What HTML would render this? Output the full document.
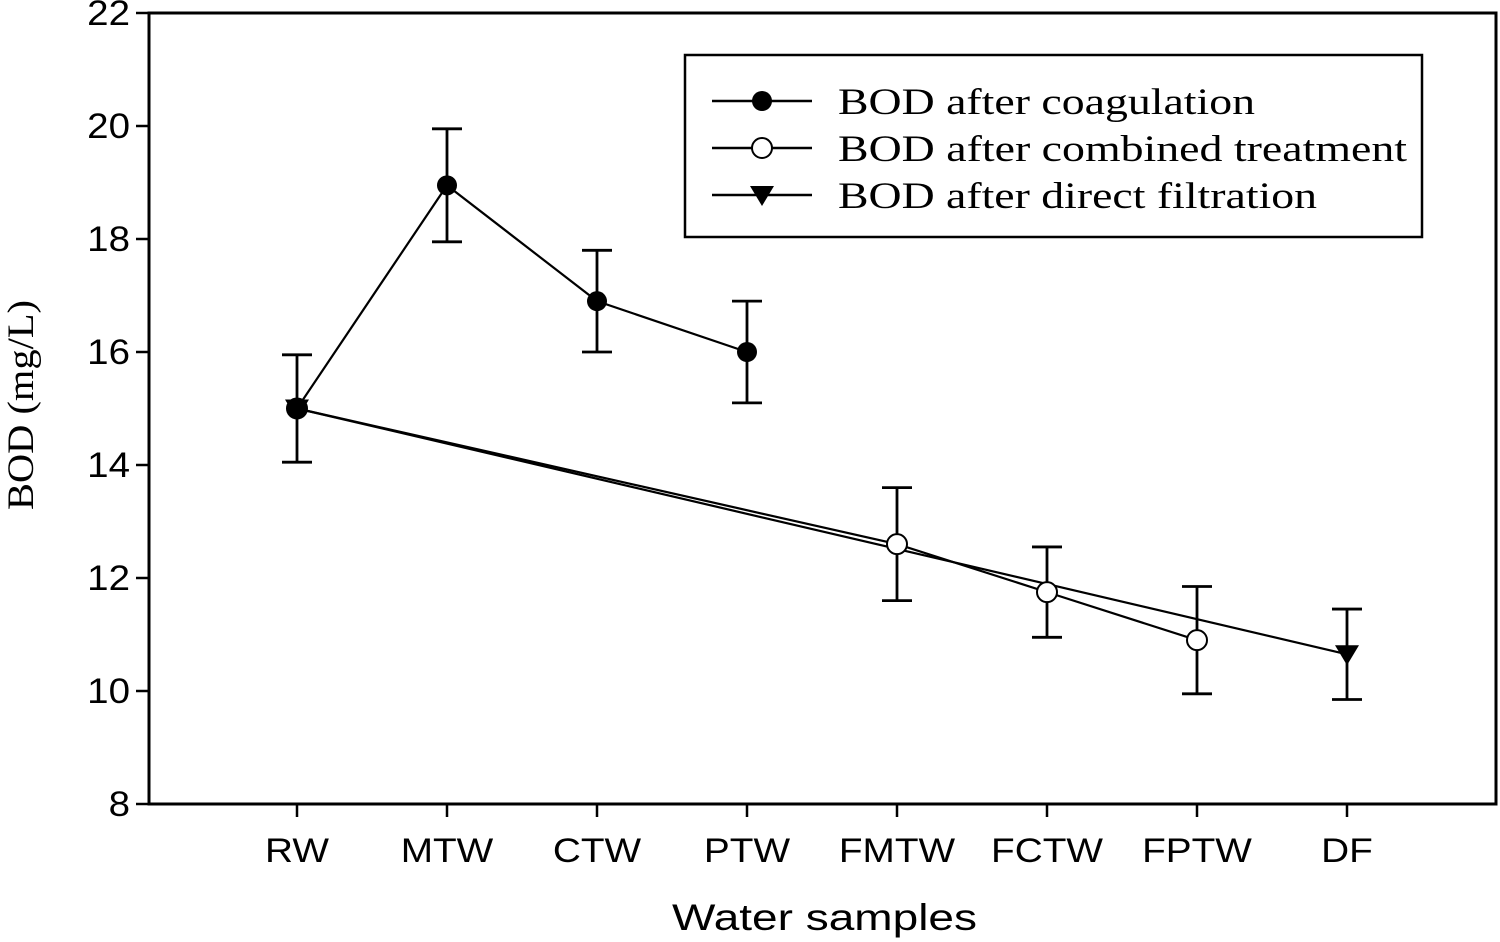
<!DOCTYPE html>
<html><head><meta charset="utf-8"><style>
html,body{margin:0;padding:0;background:#fff;}
svg{display:block;}
text{fill:#000;}
.sans{font-family:"Liberation Sans",sans-serif;}
.serif{font-family:"Liberation Serif",serif;}
</style></head><body>
<svg id="chart" width="1500" height="942" viewBox="0 0 1500 942" xmlns="http://www.w3.org/2000/svg">
<g id="axes"></g><g id="series"></g>
<g>
<rect x="685" y="55" width="737" height="182" fill="#fff" stroke="#000" stroke-width="2.5"/>
<g>
<line x1="712" y1="101" x2="812" y2="101" stroke="#000" stroke-width="2.5"/><circle cx="762" cy="101" r="10" fill="#000"/>
<text x="838" y="114" class="serif" font-size="37" textLength="417" lengthAdjust="spacingAndGlyphs">BOD after coagulation</text></g>
<g>
<line x1="712" y1="148" x2="812" y2="148" stroke="#000" stroke-width="2.5"/><circle cx="762" cy="148" r="10" fill="#fff" stroke="#000" stroke-width="2"/>
<text x="838" y="161" class="serif" font-size="37" textLength="569" lengthAdjust="spacingAndGlyphs">BOD after combined treatment</text></g>
<g>
<line x1="712" y1="195" x2="812" y2="195" stroke="#000" stroke-width="2.5"/><path d="M750,186 L774,186 L762,206 Z" fill="#000"/>
<text x="838" y="208" class="serif" font-size="37" textLength="479" lengthAdjust="spacingAndGlyphs">BOD after direct filtration</text></g>
</g>
<text x="672" y="930" class="sans" font-size="37" textLength="305" lengthAdjust="spacingAndGlyphs">Water samples</text>
<text transform="translate(33,510) rotate(-90)" class="serif" font-size="37" textLength="210" lengthAdjust="spacingAndGlyphs">BOD (mg/L)</text>
</svg>
<script>
const categories=["RW","MTW","CTW","PTW","FMTW","FCTW","FPTW","DF"];
const yTicks=[8,10,12,14,16,18,20,22];
const coagIdx=[0,1,2,3];
const coagVals=[15.0,18.95,16.9,16.0];
const coagErr=[0.95,1.0,0.9,0.9];
const combIdx=[0,4,5,6];
const combVals=[15.0,12.6,11.75,10.9];
const combErr=[0,1.0,0.8,0.95];
const directIdx=[0,7];
const directVals=[15.0,10.65];
const directErr=[0,0.8];

const L=149,R=1496,T=13,B=804,ymin=8,ymax=22;
const x=i=>297+i*150;
const y=v=>B-(v-ymin)/(ymax-ymin)*(B-T);
const NS="http://www.w3.org/2000/svg";
function mk(tag,attrs,parent){const e=document.createElementNS(NS,tag);for(const k in attrs)e.setAttribute(k,attrs[k]);parent.appendChild(e);return e;}
function widen(t,f){const w=t.getComputedTextLength();t.setAttribute('textLength',w*f);t.setAttribute('lengthAdjust','spacingAndGlyphs');}
const axes=document.getElementById('axes'),series=document.getElementById('series');
const frame=mk('rect',{x:L,y:T,width:R-L,height:B-T,fill:'none',stroke:'#000','stroke-width':3},axes);


yTicks.forEach(v=>{
 const t=mk('line',{x1:L-13,x2:L,y1:y(v),y2:y(v),stroke:'#000','stroke-width':2.5},axes);
 
 
 const lb=mk('text',{x:L-19,y:y(v)+12,'text-anchor':'end','font-size':35,class:'sans'},axes);lb.textContent=v;
 
 
 widen(lb,1.1);
});
categories.forEach((c,i)=>{
 const t=mk('line',{x1:x(i),x2:x(i),y1:B,y2:B+13,stroke:'#000','stroke-width':2.5},axes);
 
 
 const lb=mk('text',{x:x(i),y:862,'text-anchor':'middle','font-size':34,class:'sans'},axes);lb.textContent=c;
 
 
 widen(lb,1.14);
});
function drawSeries(name,idx,vals,errs,marker){
 const g=mk('g',{},series);
 
 
 const pts=idx.map((i,k)=>x(i)+','+y(vals[k])).join(' ');
 mk('polyline',{points:pts,fill:'none',stroke:'#000','stroke-width':2.2},g);
 idx.forEach((i,k)=>{
  const e=errs[k];if(e>0){
   const cx=x(i),a=y(vals[k]+e),b=y(vals[k]-e);
   mk('path',{d:`M${cx},${a}V${b}M${cx-15},${a}H${cx+15}M${cx-15},${b}H${cx+15}`,stroke:'#000','stroke-width':2.8,fill:'none'},g);
  }
 });
 idx.forEach((i,k)=>{
  const cx=x(i),cy=y(vals[k]);let m;
  if(marker==='filled')m=mk('circle',{cx,cy,r:10,fill:'#000'},g);
  else if(marker==='open')m=mk('circle',{cx,cy,r:10,fill:'#fff',stroke:'#000','stroke-width':2},g);
  else m=mk('path',{d:`M${cx-12},${cy-9}L${cx+12},${cy-9}L${cx},${cy+11}Z`,fill:'#000'},g);
  
  
 });
}
drawSeries('series-direct-filtration',directIdx,directVals,directErr,'tri');
drawSeries('series-combined-treatment',combIdx,combVals,combErr,'open');
drawSeries('series-coagulation',coagIdx,coagVals,coagErr,'filled');
</script>
</body></html>
